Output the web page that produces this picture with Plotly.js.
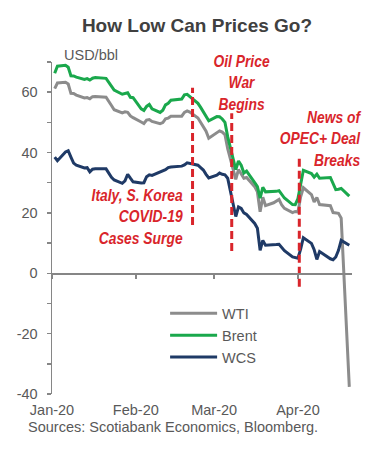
<!DOCTYPE html>
<html>
<head>
<meta charset="utf-8">
<script src="https://cdn.plot.ly/plotly-3.0.1.min.js"></script>
<style>html,body{margin:0;padding:0;background:#fff;}#chart{width:387px;height:450px;}</style>
</head>
<body>
<div id="chart"></div>
<script>
const dates = [
 '2020-01-02','2020-01-03','2020-01-06','2020-01-07','2020-01-08','2020-01-09','2020-01-10','2020-01-13','2020-01-14','2020-01-15','2020-01-16','2020-01-17','2020-01-21','2020-01-22','2020-01-23','2020-01-24','2020-01-27','2020-01-28','2020-01-29','2020-01-30','2020-01-31',
 '2020-02-03','2020-02-04','2020-02-05','2020-02-06','2020-02-07','2020-02-10','2020-02-11','2020-02-12','2020-02-13','2020-02-14','2020-02-18','2020-02-19','2020-02-20','2020-02-21','2020-02-24','2020-02-25','2020-02-26','2020-02-27','2020-02-28',
 '2020-03-02','2020-03-03','2020-03-04','2020-03-05','2020-03-06','2020-03-09','2020-03-10','2020-03-11','2020-03-12','2020-03-13','2020-03-16','2020-03-17','2020-03-18','2020-03-19','2020-03-20','2020-03-23','2020-03-24','2020-03-25','2020-03-26','2020-03-27','2020-03-30','2020-03-31',
 '2020-04-01','2020-04-02','2020-04-03','2020-04-06','2020-04-07','2020-04-08','2020-04-09','2020-04-13','2020-04-14','2020-04-15','2020-04-16','2020-04-17','2020-04-20'
];
const wti = [
 61.18,63.05,63.27,62.70,59.61,59.56,59.04,58.08,58.23,57.81,58.52,58.54,58.34,56.74,55.59,54.19,53.14,53.48,53.33,52.14,51.56,
 50.11,49.61,50.75,50.95,50.32,49.57,49.94,51.17,51.42,52.05,52.05,53.29,53.78,53.38,51.43,49.90,48.73,47.09,44.76,
 46.75,47.18,46.78,45.90,41.28,31.13,34.36,32.98,31.50,31.73,28.70,26.95,20.37,25.22,22.43,23.36,24.01,24.49,22.60,21.51,20.09,20.48,
 20.31,25.32,28.34,26.08,23.63,25.09,22.76,22.41,20.11,19.87,19.87,18.27,-37.63
];
const brent = [
 66.25,68.60,68.91,68.27,65.44,65.37,64.98,64.20,64.49,64.00,64.62,64.85,64.59,63.21,62.04,60.69,59.32,59.51,59.81,58.29,58.16,
 54.45,53.96,55.28,55.93,54.47,53.27,54.01,55.79,56.34,57.32,57.75,59.12,59.31,58.50,56.30,54.95,53.43,52.18,50.52,
 51.90,51.86,51.13,49.99,45.27,34.36,37.22,35.79,33.22,33.85,30.05,28.73,24.88,28.47,26.98,27.03,27.15,27.39,26.34,24.93,22.76,22.74,
 24.74,29.94,34.11,33.05,31.87,32.84,31.48,31.74,29.60,27.69,27.82,28.08,25.57
];
const wcs = [
 38.5,37.3,40.2,40.6,38.5,36.5,35.8,34.9,35.0,33.6,34.5,34.6,34.6,33.0,31.8,30.9,29.8,30.6,32.8,31.5,30.3,
 29.9,30.0,32.0,32.6,32.4,33.4,33.8,34.3,35.0,35.2,35.5,35.9,36.6,36.4,35.8,35.0,34.2,32.8,31.6,
 32.5,33.2,32.8,32.6,31.5,18.8,22.0,21.5,20.0,19.5,16.5,14.9,7.6,10.9,9.3,9.3,9.5,9.6,8.5,7.5,5.4,5.2,
 5.0,8.0,11.8,9.9,7.8,4.6,7.2,4.8,4.5,5.4,7.6,10.9,9.3
];
const seriesNames = ['WTI','Brent','WCS'];
const monthTicks = ['2020-01-01','2020-02-01','2020-03-01','2020-04-01'];
const monthLabels = ['Jan-20','Feb-20','Mar-20','Apr-20'];
const yTickVals = [-40,-30,-20,-10,0,10,20,30,40,50,60,70];
const yTickText = ['-40','','-20','','0','','20','','40','','60',''];
const eventDates = ['2020-02-22','2020-03-07 12:00','2020-04-01 12:00'];
const eventTop = [61.5, 53, 38];
const eventBottom = [16, 7.4, -4.5];
const eventLabels = ['Italy, S. Korea<br>COVID-19<br>Cases Surge','Oil Price<br>War<br>Begins','News of<br>OPEC+ Deal<br>Breaks'];

const colors = ['#8c8c8c','#1aa84c','#1f3a66'];
const red = '#d9252b';
const axisGray = '#868686';
const textGray = '#595959';
const baseFont = 'Liberation Sans, Arial, sans-serif';
const narrowFont = 'Liberation Sans Narrow, Arial Narrow, Liberation Sans, sans-serif';

const series = [wti, brent, wcs];
const traces = series.map((vals, i) => ({
  type: 'scatter', mode: 'lines', name: seriesNames[i],
  x: dates, y: vals, xaxis: 'x', yaxis: 'y',
  line: {color: colors[i], width: 3}
}));
eventDates.forEach((d, i) => {
  traces.push({
    type: 'scatter', mode: 'lines', showlegend: false, hoverinfo: 'skip',
    x: [d, d], y: [eventBottom[i], eventTop[i]], xaxis: 'x2', yaxis: 'y',
    line: {color: red, width: 3, dash: '8px,4px'}
  });
});

const xRange = ['2020-01-01','2020-04-21'];
const layout = {
  width: 387, height: 450,
  margin: {l: 52, r: 35, t: 62, b: 56, pad: 0},
  paper_bgcolor: '#fff', plot_bgcolor: '#fff',
  font: {family: baseFont, color: textGray, size: 14.5},
  title: {text: '<b>How Low Can Prices Go?</b>', font: {family: baseFont, size: 19, color: '#404040'},
          x: 0.509, xref: 'container', xanchor: 'center', y: 1 - 25/450, yref: 'container', yanchor: 'middle'},
  showlegend: true,
  legend: {x: 0.377, y: 0.291, xanchor: 'left', yanchor: 'top', bgcolor: 'rgba(0,0,0,0)', itemwidth: 47,
           font: {family: baseFont, size: 14.5, color: textGray}},
  xaxis: {type: 'date', range: xRange, tickmode: 'array', tickvals: monthTicks, ticktext: monthLabels,
          showline: false, ticks: '', showgrid: false, zeroline: false,
          tickfont: {family: baseFont, size: 14.5, color: textGray}, ticklabelstandoff: 5},
  xaxis2: {type: 'date', range: xRange, overlaying: 'x', anchor: 'free', position: 40/110,
           tickmode: 'array', tickvals: monthTicks, ticks: 'outside', ticklen: 4, tickwidth: 1.5, tickcolor: axisGray,
           showticklabels: false, showline: true, linecolor: axisGray, linewidth: 1.5, showgrid: false, zeroline: false},
  yaxis: {range: [-40, 70], tickmode: 'array', tickvals: yTickVals, ticktext: yTickText,
          ticks: 'outside', ticklen: 4, tickwidth: 1.5, tickcolor: axisGray,
          showline: true, linecolor: axisGray, linewidth: 1.5, showgrid: false, zeroline: false,
          tickfont: {family: baseFont, size: 14.5, color: textGray}, ticklabelstandoff: 6},
  annotations: [
    {text: 'USD/bbl', xref: 'paper', yref: 'paper', x: 0.032, y: 1.02, xanchor: 'left', yanchor: 'middle',
     showarrow: false, font: {family: baseFont, size: 14.5, color: textGray}},
    {text: 'Sources: Scotiabank Economics, Bloomberg.', xref: 'paper', yref: 'paper', x: -0.087, y: -0.1,
     xanchor: 'left', yanchor: 'middle', showarrow: false, font: {family: baseFont, size: 14.5, color: textGray}},
    {text: '<b><i>' + eventLabels[0] + '</i></b>', xref: 'paper', yref: 'paper', x: 0.4417, y: 0.535,
     xanchor: 'right', yanchor: 'middle', align: 'right', showarrow: false, font: {family: narrowFont, size: 16.5, color: red}},
    {text: '<b><i>' + eventLabels[1] + '</i></b>', xref: 'paper', yref: 'paper', x: 0.632, y: 0.937,
     xanchor: 'center', yanchor: 'middle', align: 'center', showarrow: false, font: {family: narrowFont, size: 16.5, color: red}},
    {text: '<b><i>' + eventLabels[2] + '</i></b>', xref: 'paper', yref: 'paper', x: 1.036, y: 0.77,
     xanchor: 'right', yanchor: 'middle', align: 'right', showarrow: false, font: {family: narrowFont, size: 16.5, color: red}}
  ]
};
Plotly.newPlot('chart', traces, layout, {displayModeBar: false, staticPlot: true}).then(() => {
  // Emulate the condensed (narrow) typeface of the original labels
  const origins = {2: 'right center', 3: 'center center', 4: 'right center'};
  Object.keys(origins).forEach(idx => {
    const t = document.querySelector('g.annotation[data-index="' + idx + '"] text.annotation-text');
    if (t) {
      t.style.transformBox = 'fill-box';
      t.style.transformOrigin = origins[idx];
      t.style.transform = 'scaleX(0.84)';
    }
  });
});
</script>
</body>
</html>
